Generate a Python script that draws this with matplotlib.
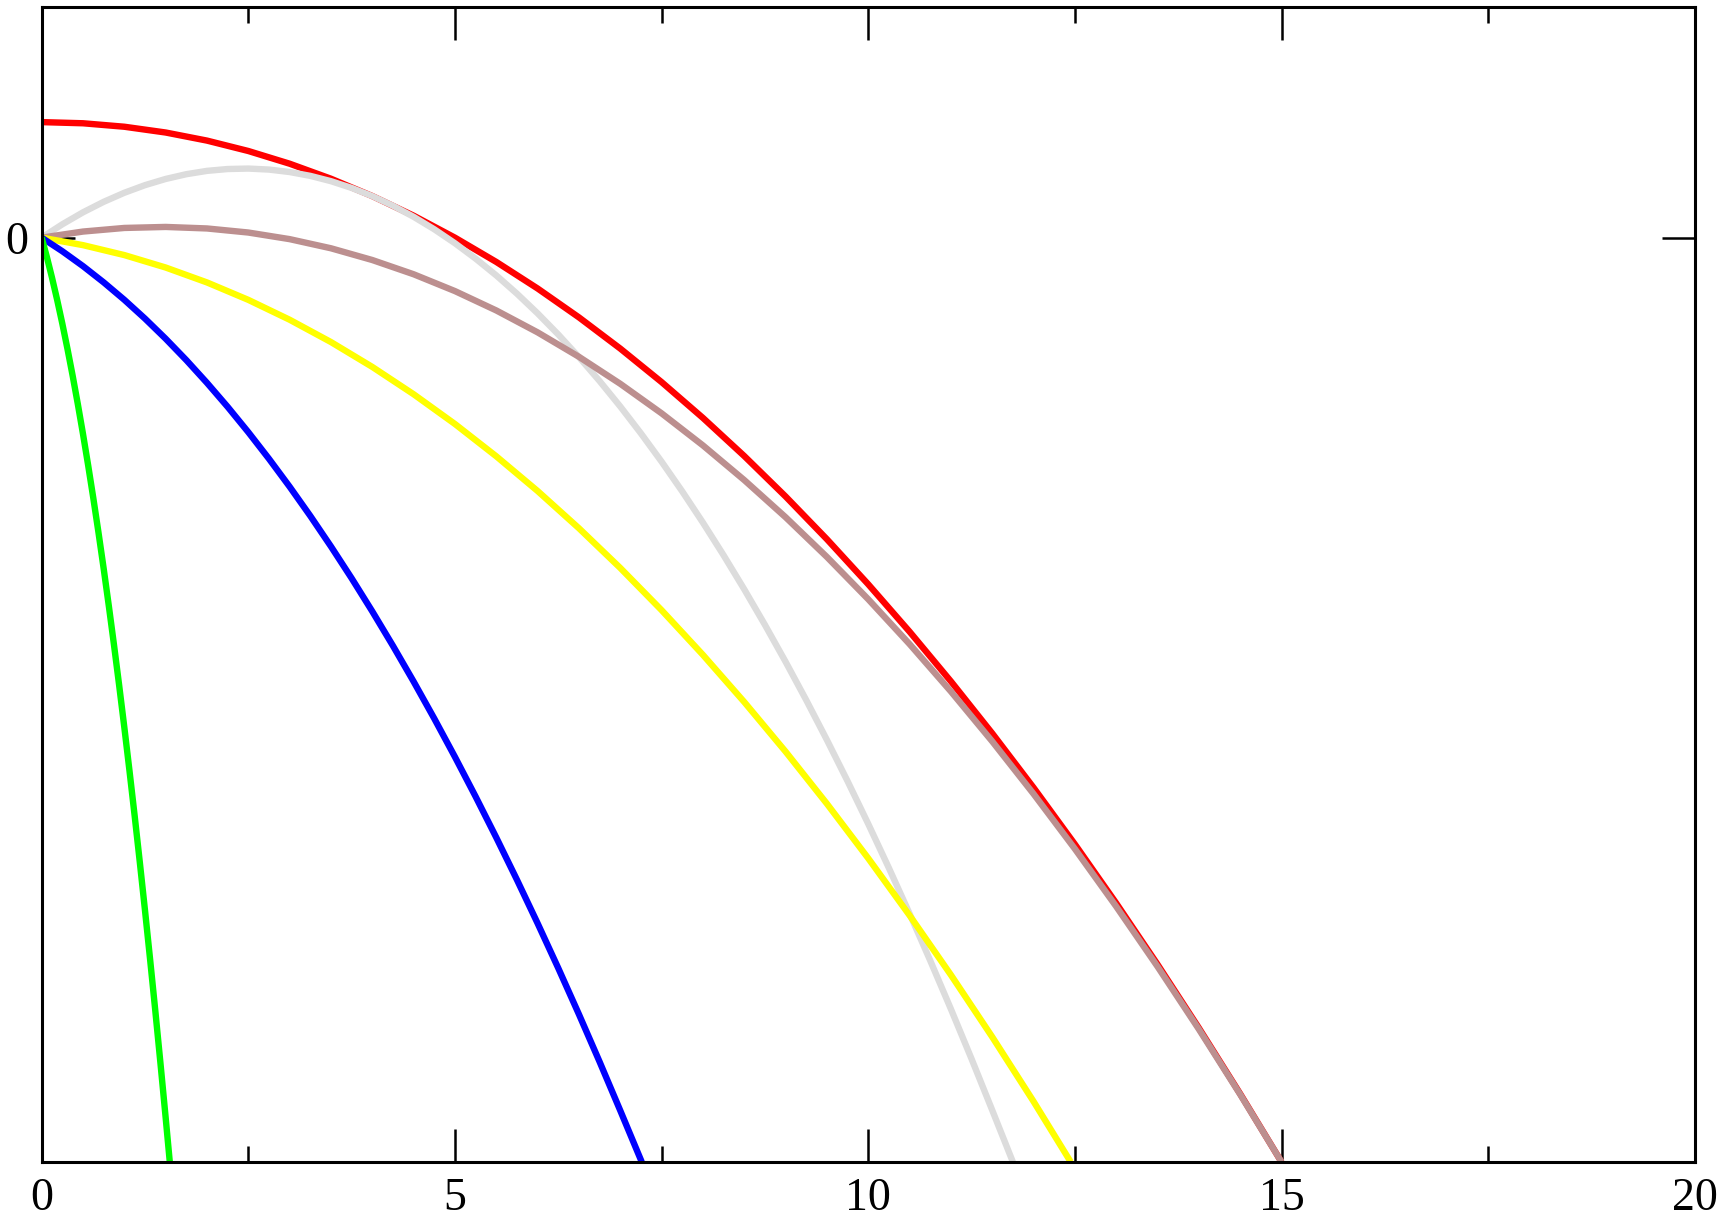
import matplotlib
matplotlib.use("Agg")
import matplotlib.pyplot as plt
from matplotlib.ticker import MultipleLocator, FixedLocator

# Trajectories (x, y)
red_x = [0, 0.5, 1, 1.5, 2, 2.5, 3, 3.5, 4, 4.5, 5, 5.5, 6, 6.5, 7, 7.5, 8, 8.5, 9, 9.5,
         10, 10.5, 11, 11.5, 12, 12.5, 13, 13.5, 14, 14.5, 15]
red_y = [2.5, 2.475, 2.4, 2.275, 2.1, 1.875, 1.6, 1.275, 0.9, 0.475, 0.0, -0.525, -1.1,
         -1.725, -2.4, -3.125, -3.9, -4.725, -5.6, -6.525, -7.5, -8.525, -9.6, -10.725,
         -11.9, -13.125, -14.4, -15.725, -17.1, -18.525, -20.0]

gray_x = [0, 0.25, 0.5, 0.75, 1.0, 1.25, 1.5, 1.75, 2.0, 2.25, 2.5, 2.75, 3.0, 3.25, 3.5,
          3.75, 4.0, 4.25, 4.5, 4.75, 5.0, 5.25, 5.5, 5.75, 6.0, 6.25, 6.5, 6.75, 7.0, 7.25,
          7.5, 7.75, 8.0, 8.25, 8.5, 8.75, 9.0, 9.25, 9.5, 9.75, 10.0, 10.25, 10.5, 10.75,
          11.0, 11.25, 11.5, 11.75]
gray_y = [0, 0.289, 0.548, 0.775, 0.971, 1.136, 1.270, 1.373, 1.445, 1.485, 1.495, 1.473,
          1.420, 1.337, 1.222, 1.076, 0.899, 0.690, 0.451, 0.181, -0.121, -0.454, -0.817,
          -1.212, -1.638, -2.095, -2.584, -3.103, -3.653, -4.235, -4.847, -5.491, -6.166,
          -6.872, -7.609, -8.377, -9.176, -10.006, -10.868, -11.760, -12.684, -13.639,
          -14.625, -15.642, -16.690, -17.769, -18.879, -20.0]

brown_x = [0, 0.5, 1, 1.5, 2, 2.5, 3, 3.5, 4, 4.5, 5, 5.5, 6, 6.5, 7, 7.5, 8, 8.5, 9, 9.5,
           10, 10.5, 11, 11.5, 12, 12.5, 13, 13.5, 14, 14.5, 15]
brown_y = [0, 0.132, 0.210, 0.232, 0.199, 0.111, -0.032, -0.230, -0.484, -0.792, -1.156,
           -1.575, -2.049, -2.578, -3.162, -3.801, -4.495, -5.245, -6.049, -6.909, -7.824,
           -8.794, -9.819, -10.899, -12.035, -13.225, -14.471, -15.771, -17.127, -18.538,
           -20.0]

yellow_x = [0, 0.5, 1, 1.5, 2, 2.5, 3, 3.5, 4, 4.5, 5, 5.5, 6, 6.5, 7, 7.5, 8, 8.5, 9, 9.5,
            10, 10.5, 11, 11.5, 12, 12.45]
yellow_y = [0, -0.162, -0.377, -0.646, -0.969, -1.346, -1.776, -2.259, -2.797, -3.388,
            -4.032, -4.731, -5.482, -6.288, -7.147, -8.060, -9.027, -10.047, -11.120,
            -12.248, -13.429, -14.664, -15.952, -17.294, -18.690, -20.0]

blue_x = [0, 0.25, 0.5, 0.75, 1, 1.25, 1.5, 1.75, 2, 2.25, 2.5, 2.75, 3, 3.25, 3.5, 3.75,
          4, 4.25, 4.5, 4.75, 5, 5.25, 5.5, 5.75, 6, 6.25, 6.5, 6.75, 7, 7.26]
blue_y = [0, -0.294, -0.616, -0.967, -1.345, -1.752, -2.187, -2.650, -3.142, -3.661, -4.209,
          -4.785, -5.389, -6.021, -6.682, -7.370, -8.087, -8.832, -9.605, -10.406, -11.236,
          -12.094, -12.980, -13.894, -14.836, -15.806, -16.805, -17.832, -18.887, -20.0]

green_x = [0, 0.0625, 0.125, 0.1875, 0.25, 0.3125, 0.375, 0.4375, 0.5, 0.5625, 0.625,
           0.6875, 0.75, 0.8125, 0.875, 0.9375, 1.0, 1.0625, 1.125, 1.1875, 1.25, 1.3125,
           1.375, 1.4375, 1.5, 1.55]
green_y = [0, -0.416, -0.866, -1.348, -1.862, -2.410, -2.990, -3.603, -4.249, -4.928,
           -5.639, -6.383, -7.160, -7.970, -8.813, -9.688, -10.596, -11.537, -12.511,
           -13.517, -14.556, -15.628, -16.733, -17.871, -19.041, -20.0]

x_ticks = [0, 5, 10, 15, 20]
x_labels = ["0", "5", "10", "15", "20"]
y_ticks = [0]
y_labels = ["0"]

plt.rcParams['font.family'] = ['Liberation Serif', 'DejaVu Serif']

fig = plt.figure(figsize=(17.22, 12.17), dpi=100)
ax = fig.add_axes([0.0242, 0.0452, 0.9600, 0.9494])

lw = 4.6
common = dict(lw=lw, solid_capstyle='butt', solid_joinstyle='round')
ax.plot(red_x, red_y, color='#ff0000', zorder=2, **common)
ax.plot(gray_x, gray_y, color='#dcdcdc', zorder=3, **common)
ax.plot(brown_x, brown_y, color='#bc8f8f', zorder=4, **common)
ax.plot(yellow_x, yellow_y, color='#ffff00', zorder=5, **common)
ax.plot(blue_x, blue_y, color='#0000ff', zorder=6, **common)
ax.plot(green_x, green_y, color='#00ff00', zorder=7, **common)

ax.set_xlim(0, 20)
ax.set_ylim(-20, 5)

ax.xaxis.set_major_locator(FixedLocator(x_ticks))
ax.set_xticklabels(x_labels)
ax.xaxis.set_minor_locator(MultipleLocator(2.5))
ax.yaxis.set_major_locator(FixedLocator(y_ticks))
ax.set_yticklabels(y_labels)

ax.tick_params(axis='both', which='major', direction='in', length=23.5, width=1.8,
               labelsize=33, top=True, right=True, color='black')
ax.tick_params(axis='x', which='minor', direction='in', length=11.5, width=1.8,
               top=True, bottom=True)
ax.tick_params(axis='x', which='major', pad=11)
ax.tick_params(axis='y', which='major', pad=10)

for s in ax.spines.values():
    s.set_linewidth(2.2)
    s.set_zorder(10)

fig.savefig("out.png", dpi=100)
